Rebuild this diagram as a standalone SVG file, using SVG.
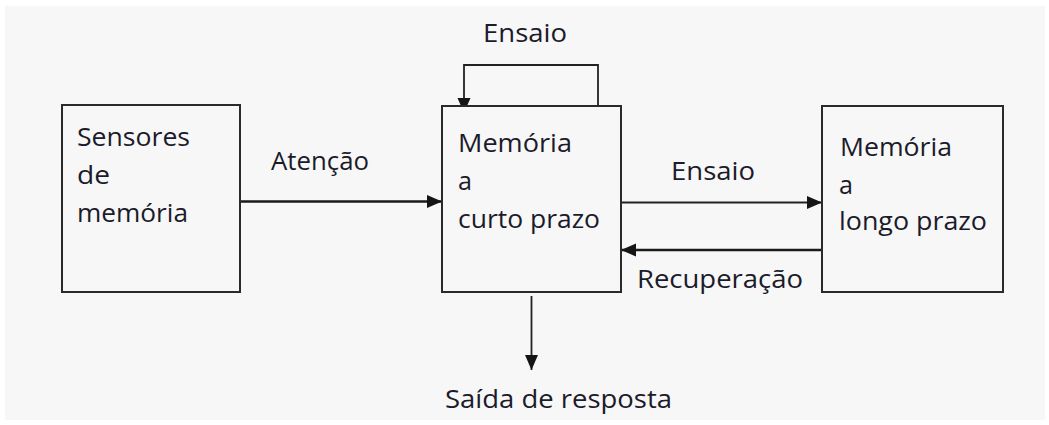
<svg xmlns="http://www.w3.org/2000/svg" width="1049" height="425" viewBox="0 0 1049 425">
<defs>
<style>
.box{fill:#f7f7f7;stroke:#2a2a2a;stroke-width:2}
.t{font-family:"Open Sans","Noto Sans",sans-serif;font-size:25px;fill:#1b1b2b}
.c{fill:none;stroke:#222;stroke-width:1.8}
.ct{fill:none;stroke:#1a1a1a;stroke-width:2.6}
</style>
<marker id="ah" markerUnits="userSpaceOnUse" markerWidth="16" markerHeight="14" refX="15" refY="6.5" orient="auto">
<path d="M0,0 L15,6.5 L0,13 Z" fill="#151515"/>
</marker>
</defs>
<rect x="0" y="0" width="1049" height="425" fill="#ffffff"/>
<rect x="5" y="6" width="1040" height="414" fill="#f7f7f7"/>
<g id="connectors">
<path class="c" d="M598,105 V65 H464 V113" marker-end="url(#ah)"/>
<path class="ct" d="M240,201.5 H442" marker-end="url(#ah)"/>
<path class="c" d="M621,202.5 H822" marker-end="url(#ah)"/>
<path class="ct" d="M822,250 H621" marker-end="url(#ah)"/>
<path class="c" d="M531.5,296 V370" marker-end="url(#ah)"/>
<text class="t" x="483" y="41.5" textLength="84" lengthAdjust="spacingAndGlyphs">Ensaio</text>
<text class="t" x="271" y="169.5" textLength="98" lengthAdjust="spacingAndGlyphs">Atenção</text>
<text class="t" x="671" y="179.5" textLength="84" lengthAdjust="spacingAndGlyphs">Ensaio</text>
<text class="t" x="637" y="287.5" textLength="166" lengthAdjust="spacingAndGlyphs">Recuperação</text>
<text class="t" x="445" y="407.5" textLength="227" lengthAdjust="spacingAndGlyphs">Saída de resposta</text>
</g>
<g id="sensores">
<rect class="box" x="62" y="105" width="178" height="187"/>
<text class="t" x="77" y="146" textLength="113" lengthAdjust="spacingAndGlyphs">Sensores</text>
<text class="t" x="77" y="184" textLength="33" lengthAdjust="spacingAndGlyphs">de</text>
<text class="t" x="77" y="222" textLength="111" lengthAdjust="spacingAndGlyphs">memória</text>
</g>
<g id="curto">
<rect class="box" x="442" y="106" width="179" height="186"/>
<text class="t" x="458" y="152" textLength="114" lengthAdjust="spacingAndGlyphs">Memória</text>
<text class="t" x="458" y="190" textLength="14" lengthAdjust="spacingAndGlyphs">a</text>
<text class="t" x="458" y="228" textLength="142" lengthAdjust="spacingAndGlyphs">curto prazo</text>
</g>
<g id="longo">
<rect class="box" x="822" y="106" width="181" height="186"/>
<text class="t" x="840" y="156" textLength="112" lengthAdjust="spacingAndGlyphs">Memória</text>
<text class="t" x="839" y="194" textLength="14" lengthAdjust="spacingAndGlyphs">a</text>
<text class="t" x="839" y="230" textLength="148" lengthAdjust="spacingAndGlyphs">longo prazo</text>
</g>
</svg>
